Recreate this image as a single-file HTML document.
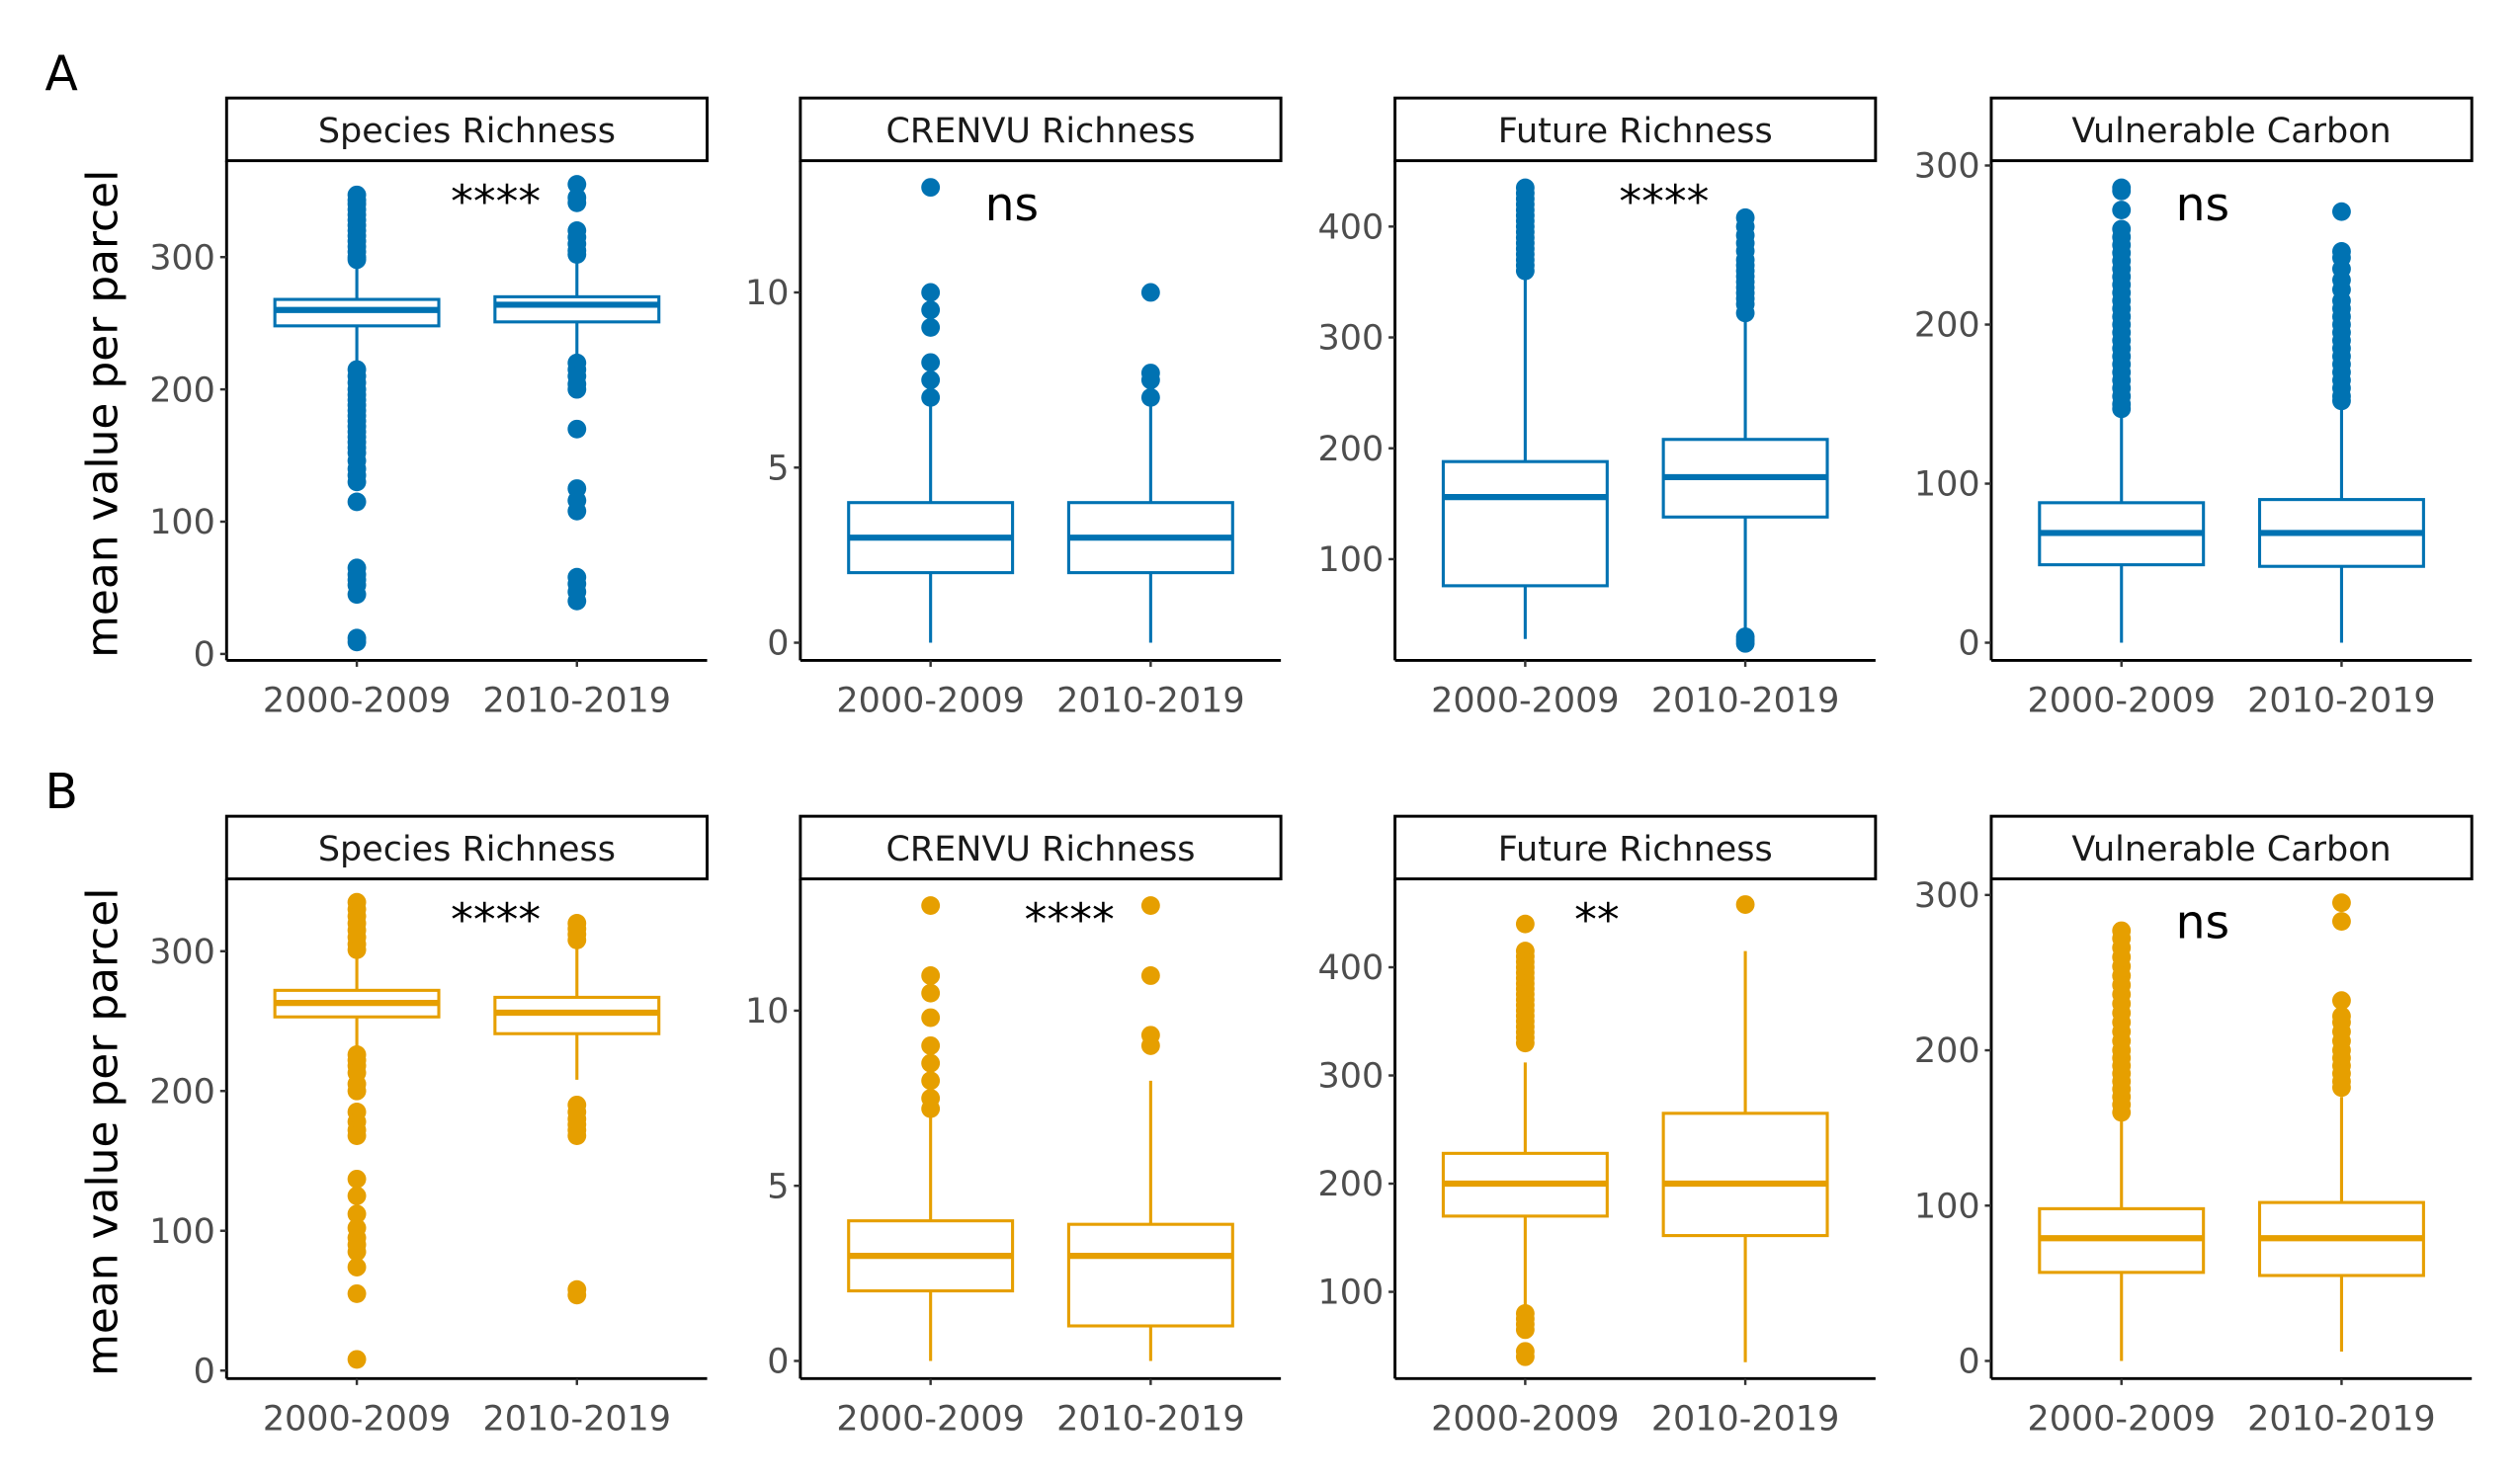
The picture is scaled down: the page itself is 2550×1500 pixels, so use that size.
<!DOCTYPE html>
<html><head><meta charset="utf-8">
<style>
html,body{margin:0;padding:0;background:#fff;}
svg{display:block;}
text{font-family:"DejaVu Sans","Liberation Sans",sans-serif;}
</style></head>
<body>
<svg id="chart" xmlns="http://www.w3.org/2000/svg" width="2550" height="1500" viewBox="0 0 1568 922.35"></svg>
<script>
// ---- data ----
const categories = ["2000-2009", "2010-2019"];
const panelTitles = ["Species Richness", "CRENVU Richness", "Future Richness", "Vulnerable Carbon"];
const rowLabels = ["A", "B"];
const sigA = ["****", "ns", "****", "ns"];
const sigB = ["****", "****", "**", "ns"];
const ticksA1 = [0, 100, 200, 300];
const ticksA2 = [0, 5, 10];
const ticksA3 = [100, 200, 300, 400];
const ticksA4 = [0, 100, 200, 300];
const ticksB1 = [0, 100, 200, 300];
const ticksB2 = [0, 5, 10];
const ticksB3 = [100, 200, 300, 400];
const ticksB4 = [0, 100, 200, 300];
// box stats: [lowerWhisker, q1, median, q3, upperWhisker]
const statsA1 = [[216, 248, 260, 268, 296], [222, 251, 264, 270, 304]];
const statsA2 = [[0, 2, 3, 4, 7], [0, 2, 3, 4, 7]];
const statsA3 = [[28, 76, 156, 188, 356], [33, 138, 174, 208, 318]];
const statsA4 = [[0, 49, 69, 88, 145], [0, 48, 69, 90, 150]];
const statsB1 = [[228, 253, 263, 272, 298], [208, 241, 256, 267, 305]];
const statsB2 = [[0, 2, 3, 4, 7], [0, 1, 3, 3.9, 8]];
const statsB3 = [[80, 170, 200, 228, 312], [35, 152, 200, 265, 415]];
const statsB4 = [[0, 57, 79, 98, 158], [6, 55, 79, 102, 170]];
const outA1 = [[347,343,340,336,332,328,324,320,316,312,308,304,300,298,215,210,205,200,196,192,188,184,180,176,172,168,164,160,156,152,146,140,135,130,115,65,60,56,52,45,12,9],
               [355,345,341,320,315,310,305,302,220,215,210,204,200,170,125,116,108,58,53,47,40]];
const outA2 = [[13,10,9.5,9,8,7.5,7],[10,7.7,7.5,7]];
const outA3 = [[435,430,425,420,415,410,405,400,395,390,385,380,375,370,365,360],
               [408,400,392,385,378,370,365,360,355,350,345,340,335,330,322,30,27,24]];
const outA4 = [[286,284,272,260,255,250,245,240,235,230,225,220,215,210,205,200,195,190,185,180,175,170,165,160,155,150,147],
               [271,246,242,235,228,222,215,210,205,200,195,190,185,180,175,170,165,160,155,152]];
const outB1 = [[335,330,325,320,315,310,305,301,226,222,218,213,205,200,185,178,172,168,137,125,112,102,95,90,85,74,55,8],
               [320,316,312,308,190,185,180,176,172,168,58,54]];
const outB2 = [[13,11,10.5,9.8,9,8.5,8,7.5,7.2],[13,11,9.3,9]];
const outB3 = [[440,415,410,405,400,395,390,385,380,375,370,365,360,355,350,345,340,335,330,80,75,70,65,45,40],
               [458]];
const outB4 = [[277,272,266,260,254,248,242,236,230,224,218,212,206,200,195,190,185,180,175,170,165,160],
               [295,283,232,222,218,212,206,200,195,190,185,180,176]];

// ---- layout ----
const panelLeft = [141, 498, 868, 1239];
const panelWidth = 299;
const rowTop = [100, 547];
const rowBottom = [411, 858];
const calA = [[0,407,300,160],[0,400,10,182],[100,348,400,141],[0,400,300,103]];
const calB = [[0,853,300,592],[0,847,10,629],[100,804,400,602],[0,847,300,557]];

const COLORS = ["#0072B2", "#E69F00"];
const NS = "http://www.w3.org/2000/svg";
const svg = document.getElementById("chart");

function mk(tag, attrs, parent) {
  const e = document.createElementNS(NS, tag);
  for (const k in attrs) e.setAttribute(k, attrs[k]);
  (parent || svg).appendChild(e);
  return e;
}
function yScale(cal) {
  const [v0, p0, v1, p1] = cal;
  return v => p0 + (v - v0) * (p1 - p0) / (v1 - v0);
}

const rows = [
  {ticks:[ticksA1,ticksA2,ticksA3,ticksA4], stats:[statsA1,statsA2,statsA3,statsA4], outs:[outA1,outA2,outA3,outA4], sig:sigA, cal:calA},
  {ticks:[ticksB1,ticksB2,ticksB3,ticksB4], stats:[statsB1,statsB2,statsB3,statsB4], outs:[outB1,outB2,outB3,outB4], sig:sigB, cal:calB}
];

rows.forEach((row, r) => {
  const color = COLORS[r];
  const lbl = mk("text", {x: 28, y: rowTop[r] - 44, "font-size": 30, fill: "#000"});
  lbl.textContent = rowLabels[r];
  
  

  const yt = mk("text", {x: 0, y: 0, "font-size": 27, fill: "#000", "text-anchor": "middle",
    transform: `translate(73,${(rowTop[r] + rowBottom[r]) / 2 + 2}) rotate(-90)`});
  yt.textContent = "mean value per parcel";
  
  

  for (let p = 0; p < 4; p++) {
    const L = panelLeft[p], R = L + panelWidth, B = rowBottom[r], T = rowTop[r];
    const y = yScale(row.cal[p]);
    const xc = i => L + panelWidth * (i === 0 ? 0.271 : 0.729);
    const g = mk("g", {});
    
    

    const strip = mk("rect", {x: L, y: T - 39, width: panelWidth, height: 39, fill: "#fff", stroke: "#000", "stroke-width": 1.8}, g);
    
    
    const st = mk("text", {x: L + panelWidth / 2, y: T - 11.5, "font-size": 21.5, "text-anchor": "middle", fill: "#1a1a1a"}, g);
    st.textContent = panelTitles[p];
    
    

    mk("line", {x1: L, y1: T, x2: L, y2: B, stroke: "#000", "stroke-width": 1.8}, g);
    mk("line", {x1: L, y1: B, x2: R, y2: B, stroke: "#000", "stroke-width": 1.8}, g);

    row.ticks[p].forEach(t => {
      const ty = y(t);
      mk("line", {x1: L - 4, y1: ty, x2: L, y2: ty, stroke: "#333", "stroke-width": 1.5}, g);
      const tl = mk("text", {x: L - 7, y: ty + 7.5, "font-size": 21.5, "text-anchor": "end", fill: "#4d4d4d"}, g);
      tl.textContent = t;
      
      
    });

    categories.forEach((c, i) => {
      const x = xc(i);
      mk("line", {x1: x, y1: B, x2: x, y2: B + 4, stroke: "#333", "stroke-width": 1.5}, g);
      const xl = mk("text", {x: x, y: B + 32, "font-size": 21.5, "text-anchor": "middle", fill: "#4d4d4d"}, g);
      xl.textContent = c;
      
      

      const [lo, q1, md, q3, hi] = row.stats[p][i];
      const hw = 51;
      const wh = mk("line", {x1: x, y1: y(lo), x2: x, y2: y(hi), stroke: color, "stroke-width": 1.9}, g);
      
      
      const bx = mk("rect", {x: x - hw, y: y(q3), width: 2 * hw, height: y(q1) - y(q3), fill: "#fff", stroke: color, "stroke-width": 1.9}, g);
      
      
      const mdl = mk("line", {x1: x - hw, y1: y(md), x2: x + hw, y2: y(md), stroke: color, "stroke-width": 3.8}, g);
      
      
      row.outs[p][i].forEach(v => {
        const pt = mk("circle", {cx: x, cy: y(v), r: 5.8, fill: color}, g);
        
        
      });
    });

    const s = row.sig[p];
    const sx = s === "ns" ? L + panelWidth * 0.44 : (s === "**" ? L + panelWidth * 0.42 : L + panelWidth * 0.56);
    const sg = mk("text", {x: sx, y: s === "ns" ? T + 37 : T + 35, "font-size": s === "ns" ? 29 : 28, "text-anchor": "middle", fill: "#000"}, g);
    sg.textContent = s;
    
    
  }
});
</script>
</body></html>
